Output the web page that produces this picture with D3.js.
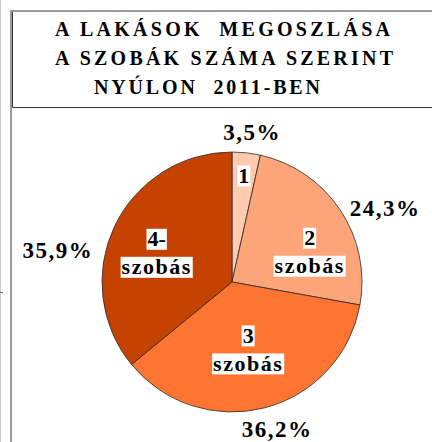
<!DOCTYPE html>
<html>
<head>
<meta charset="utf-8">
<script src="https://cdn.jsdelivr.net/npm/d3@7"></script>
</head>
<body style="margin:0">
<script>
// adatok
const titleLines = ['A LAKÁSOK  MEGOSZLÁSA', 'A SZOBÁK SZÁMA SZERINT', 'NYÚLON  2011-BEN'];
const categories = ['1', '2 szobás', '3 szobás', '4- szobás'];
const innerLabels = [['1'], ['2', 'szobás'], ['3', 'szobás'], ['4-', 'szobás']];
const values = [3.5, 24.3, 36.2, 35.9];
const pctLabels = ['3,5%', '24,3%', '36,2%', '35,9%'];

const width = 432, height = 442;
const cx = 232, cy = 282, radius = 130;
const palette = ['#ffcbb0', '#fda478', '#ff7431', '#c54200'];
const titleX = [55, 55, 94];
const titleW = [335, 338, 226];
const FONT = "'Liberation Serif', Tinos, 'Times New Roman', Times, 'DejaVu Serif', serif";
// finomhangolás a címkékhez (Excel "best fit")
const innerNudge = [[3, -27], [11, 14], [-4, -10], [-3, 5]];
const pctNudge = [[3, 4], [24, 12], [6, -3], [-34, 34]];

const svg = d3.select('body').append('svg')
  .attr('width', width)
  .attr('height', height)
  .style('display', 'block');

const serif = sel => sel
  .attr('font-family', FONT)
  .attr('font-weight', 'bold')
  .style('font-family', FONT, 'important')
  .style('font-weight', 'bold', 'important');

// keret
svg.append('line')
  .attr('x1', 0.5).attr('y1', 0).attr('x2', 0.5).attr('y2', height)
  .attr('stroke', '#c8c8c8');
svg.append('line')
  .attr('x1', 0).attr('y1', 292.5).attr('x2', 3).attr('y2', 292.5)
  .attr('stroke', '#666');
svg.append('path')
  .attr('d', `M11,${height} V11 H${width}`)
  .attr('fill', 'none')
  .attr('stroke', '#999')
  .attr('stroke-width', 2);
svg.append('path')
  .attr('d', `M12.5,12 V107.5 H${width}`)
  .attr('fill', 'none')
  .attr('stroke', '#333')
  .attr('stroke-width', 1);

// cím
svg.append('g')
  .selectAll('text')
  .data(titleLines)
  .join('text')
  .call(serif)
  .attr('font-size', 20)
  .attr('x', (d, i) => titleX[i])
  .attr('y', (d, i) => 35.5 + i * 29)
  .attr('textLength', (d, i) => titleW[i])
  .attr('lengthAdjust', 'spacing')
  .attr('fill', '#000')
  .style('white-space', 'pre')
  .text(d => d);

// kördiagram
const pie = d3.pie().sort(null).value(d => d);
const arcs = pie(values);
const arc = d3.arc().innerRadius(0).outerRadius(radius);
const innerArc = d3.arc().innerRadius(80).outerRadius(80);
const outerArc = d3.arc().innerRadius(155).outerRadius(155);

const g = svg.append('g').attr('transform', `translate(${cx},${cy})`);

g.append('g')
  .selectAll('path')
  .data(arcs)
  .join('path')
  .attr('d', arc)
  .attr('fill', (d, i) => palette[i])
  .attr('stroke', '#2a2a2a')
  .attr('stroke-width', 0.8);

// belső címkék fehér háttérrel
const inner = g.append('g')
  .selectAll('g')
  .data(arcs)
  .join('g')
  .attr('transform', (d, i) => {
    const [x, y] = innerArc.centroid(d);
    return `translate(${x + innerNudge[i][0]},${y + innerNudge[i][1]})`;
  });

inner.each(function (d, i) {
  const lines = innerLabels[i];
  const lh = 28;
  const top = -(lines.length - 1) * lh / 2;
  lines.forEach((t, j) => {
    const grp = d3.select(this).append('g');
    const txt = grp.append('text')
      .call(serif)
      .attr('font-size', 22)
      .attr('y', top + j * lh)
      .attr('dy', '0.35em')
      .attr('text-anchor', 'middle')
      .attr('letter-spacing', t.length > 2 ? 1.5 : 0)
      .attr('fill', '#000')
      .text(t);
    const bb = txt.node().getBBox();
    grp.insert('rect', 'text')
      .attr('x', bb.x - 1)
      .attr('y', top + j * lh - 10)
      .attr('width', bb.width + 2)
      .attr('height', 21)
      .attr('fill', '#fff');
  });
});

// százalék címkék
g.append('g')
  .selectAll('text')
  .data(arcs)
  .join('text')
  .call(serif)
  .attr('font-size', 23)
  .attr('transform', (d, i) => {
    const [x, y] = outerArc.centroid(d);
    return `translate(${x + pctNudge[i][0]},${y + pctNudge[i][1]})`;
  })
  .attr('dy', '0.35em')
  .attr('text-anchor', 'middle')
  .attr('letter-spacing', 1.5)
  .attr('fill', '#000')
  .text((d, i) => pctLabels[i]);

// stílus kiértékelése a betűtípus betöltéséhez
svg.selectAll('text').each(function () {
  getComputedStyle(this).fontFamily;
  this.getComputedTextLength();
});
</script>
</body>
</html>
